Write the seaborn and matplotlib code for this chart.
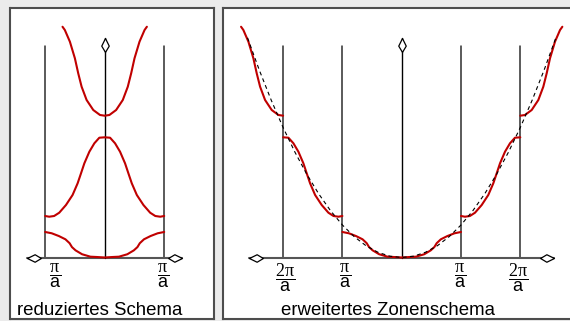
import numpy as np
import matplotlib
matplotlib.use("Agg")
import matplotlib.pyplot as plt
import seaborn as sns
from matplotlib.path import Path

# ---------------- data (k in units of pi/a, E in units of free-electron E(pi/a)) ----
band1_k = [0.0, 0.13, 0.24, 0.38, 0.49, 0.55, 0.59, 0.66, 0.77, 0.89, 1.0]
band1_E = [0.0, 0.015, 0.025, 0.10, 0.22, 0.32, 0.44, 0.56, 0.66, 0.745, 0.785]
band2_k = [1.0, 1.067, 1.15, 1.236, 1.349, 1.46, 1.545, 1.602, 1.658, 1.742, 1.826, 1.91, 2.0]
band2_E = [1.277, 1.255, 1.277, 1.378, 1.615, 1.923, 2.283, 2.591, 2.898, 3.255, 3.514, 3.686, 3.698]
band3_k = [2.0, 2.079, 2.192, 2.304, 2.388, 2.445, 2.501, 2.585, 2.67, 2.709]
band3_E = [4.363, 4.385, 4.538, 4.846, 5.255, 5.668, 6.129, 6.640, 7.0, 7.10]
free_k = [0.0, 0.2, 0.4, 0.6, 0.8, 1.0, 1.2, 1.4, 1.6, 1.8, 2.0, 2.2, 2.4, 2.6]
free_E = [0.0, 0.04, 0.16, 0.36, 0.64, 1.0, 1.44, 1.96, 2.56, 3.24, 4.0, 4.84, 5.76, 6.76]

zone_lines_reduced = [-1, 1]
zone_lines_extended = [-2, -1, 1, 2]
ticks_reduced_k = [-0.835, 0.98]
ticks_reduced_lab = [r"$\dfrac{\mathrm{\pi}}{\mathsf{a}}$", r"$\dfrac{\mathrm{\pi}}{\mathsf{a}}$"]
ticks_extended_k = [-1.968, -0.956, 0.99, 1.96]
ticks_extended_lab = [r"$\dfrac{\mathrm{2\pi}}{\mathsf{a}}$", r"$\dfrac{\mathrm{\pi}}{\mathsf{a}}$",
                      r"$\dfrac{\mathrm{\pi}}{\mathsf{a}}$", r"$\dfrac{\mathrm{2\pi}}{\mathsf{a}}$"]
title_reduced = "reduziertes Schema"
title_extended = "erweitertes Zonenschema"

# ---------------- style ----------------
sns.set_style("white")
plt.rcParams["font.family"] = ["Liberation Sans", "DejaVu Sans"]
plt.rcParams["mathtext.fontset"] = "custom"
plt.rcParams["mathtext.rm"] = "Liberation Serif"
plt.rcParams["mathtext.sf"] = "Liberation Sans"
plt.rcParams["mathtext.it"] = "Liberation Serif:italic"

RED = "#c00000"
BG = "#ebebeb"

fig = plt.figure(figsize=(5.70, 3.21), dpi=100, facecolor=BG)
W, H = 570.0, 321.0
ax_l = fig.add_axes([10.5 / W, 2.0 / H, (214 - 10.5) / W, (319 - 8) / H])
ax_r = fig.add_axes([223 / W, 2.0 / H, (572 - 223) / W, (319 - 8) / H])

ymin, ymax = -(319 - 257.5) / 32.5, (257.5 - 8) / 32.5
ax_l.set_xlim((10.5 - 104.7) / 59.5, (214 - 104.7) / 59.5)
ax_r.set_xlim((223 - 401.7) / 59.3, (572 - 401.7) / 59.3)

b1k = np.array(band1_k); b1E = np.array(band1_E)
b2k = np.array(band2_k); b2E = np.array(band2_E)
b3k = np.array(band3_k); b3E = np.array(band3_E)
fk = np.array(free_k); fE = np.array(free_E)


def sym(k, E):
    return np.concatenate([-k[::-1], k]), np.concatenate([E[::-1], E])


codes = [Path.MOVETO, Path.LINETO, Path.LINETO, Path.LINETO, Path.CLOSEPOLY]
kite_left = Path([(0, 0), (0.55, 0.27), (1, 0), (0.55, -0.27), (0, 0)], codes)
kite_right = Path([(0, 0), (-0.55, 0.27), (-1, 0), (-0.55, -0.27), (0, 0)], codes)
kite_up = Path([(0, 0), (0.27, -0.55), (0, -1), (-0.27, -0.55), (0, 0)], codes)


def frame(ax, zone_lines, xaxis_half, tick_k, tick_lab, title, title_k):
    ax.set_facecolor("white")
    ax.set_ylim(ymin, ymax)
    ax.set_xticks([]); ax.set_yticks([])
    for s in ax.spines.values():
        s.set_visible(True)
        s.set_color("#4d4d4d")
        s.set_linewidth(1.5)
    for z in zone_lines:
        ax.plot([z, z], [0, 6.51], color="#2e2e2e", lw=1.1, zorder=2)
    ax.plot([-xaxis_half, xaxis_half], [0, 0], color="#555555", lw=1.5, zorder=2)
    ax.plot([0, 0], [0, 6.76], color="black", lw=1.0, zorder=2)
    mk = dict(ms=20, mfc="white", mec="black", mew=0.9, ls="none", zorder=6)
    ax.plot([-xaxis_half], [0], marker=kite_left, **mk)
    ax.plot([xaxis_half], [0], marker=kite_right, **mk)
    ax.plot([0], [6.76], marker=kite_up, **mk)
    for k, lab in zip(tick_k, tick_lab):
        ax.text(k, -0.12, lab, ha="center", va="top", fontsize=13, color="black")
    ax.text(title_k, -1.77, title, ha="center", va="baseline", fontsize=13.4, color="black")


frame(ax_l, zone_lines_reduced, 1.30, ticks_reduced_k, ticks_reduced_lab, title_reduced, -0.079)
frame(ax_r, zone_lines_extended, 2.57, ticks_extended_k, ticks_extended_lab, title_extended, -0.223)

lw_red = 1.5
# ---- extended zone scheme ----
kk, EE = sym(b1k, b1E)
sns.lineplot(x=kk, y=EE, ax=ax_r, color=RED, lw=lw_red, sort=False, estimator=None, zorder=4)
for k, E in [(b2k, b2E), (b3k, b3E)]:
    sns.lineplot(x=k, y=E, ax=ax_r, color=RED, lw=lw_red, sort=False, estimator=None, zorder=4)
    sns.lineplot(x=-k, y=E, ax=ax_r, color=RED, lw=lw_red, sort=False, estimator=None, zorder=4)
kk, EE = sym(fk, fE)
sns.lineplot(x=kk, y=EE, ax=ax_r, color="black", lw=0.8, sort=False, estimator=None,
             linestyle=(0, (3.5, 3)), zorder=5)

# ---- reduced zone scheme (folded back by reciprocal lattice vector 2 pi/a) ----
kk, EE = sym(b1k, b1E)
sns.lineplot(x=kk, y=EE, ax=ax_l, color=RED, lw=lw_red, sort=False, estimator=None, zorder=4)
k2 = np.concatenate([b2k - 2, (2 - b2k)[::-1]])
E2 = np.concatenate([b2E, b2E[::-1]])
sns.lineplot(x=k2, y=E2, ax=ax_l, color=RED, lw=lw_red, sort=False, estimator=None, zorder=4)
k3 = np.concatenate([(2 - b3k)[::-1], b3k - 2])
E3 = np.concatenate([b3E[::-1], b3E])
sns.lineplot(x=k3, y=E3, ax=ax_l, color=RED, lw=lw_red, sort=False, estimator=None, zorder=4)

for ax in (ax_l, ax_r):
    ax.set_xlabel(""); ax.set_ylabel("")
    if ax.get_legend() is not None:
        ax.get_legend().remove()

fig.savefig("out.png", dpi=100, facecolor=BG)
